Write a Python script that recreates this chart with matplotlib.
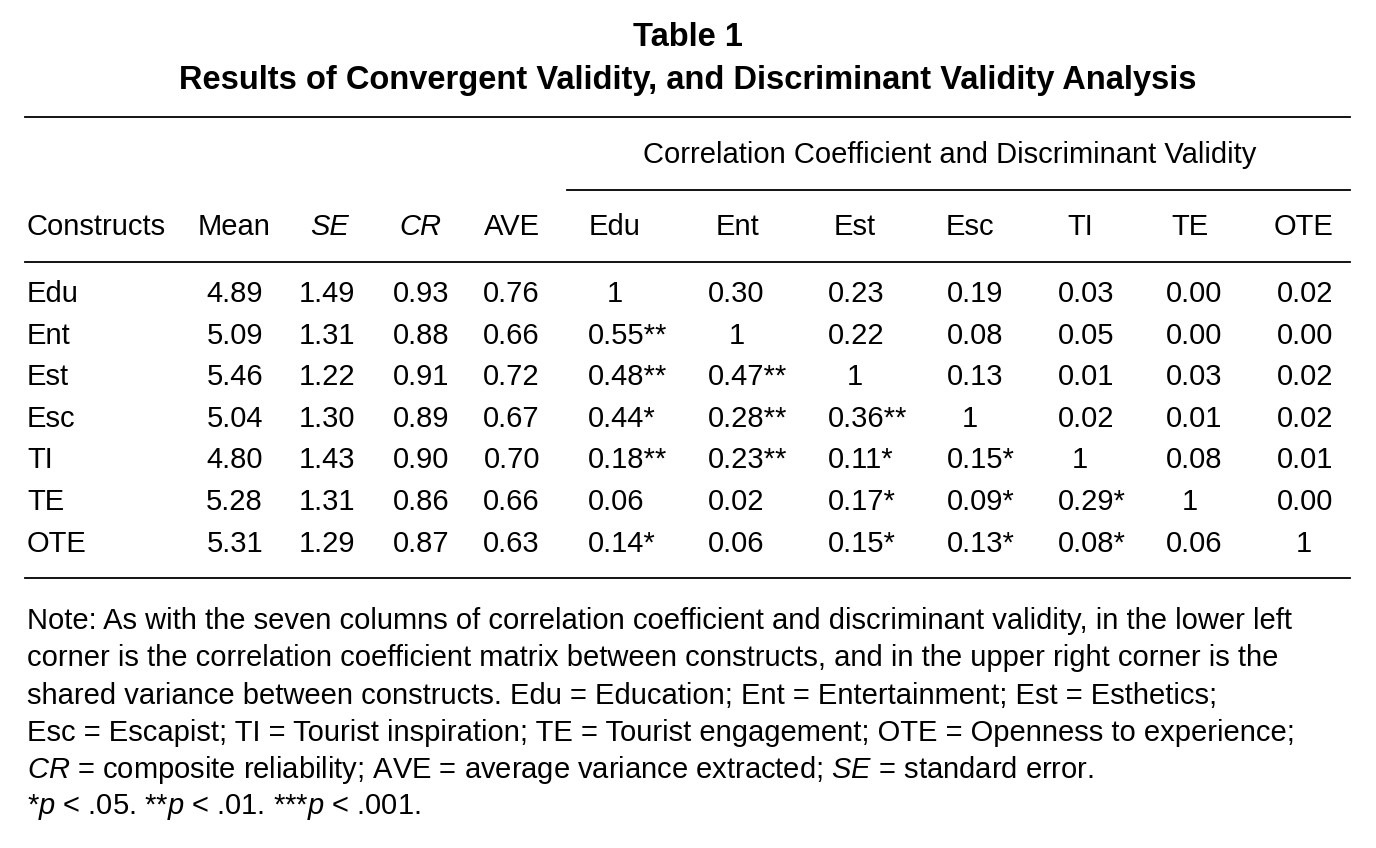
import matplotlib
matplotlib.use("Agg")
import matplotlib.pyplot as plt

plt.rcParams['font.family'] = ['Liberation Sans', 'DejaVu Sans']
plt.rcParams['mathtext.fontset'] = 'custom'
plt.rcParams['mathtext.rm'] = 'Liberation Sans'
plt.rcParams['mathtext.it'] = 'Liberation Sans:italic'

constructs = ["Edu", "Ent", "Est", "Esc", "TI", "TE", "OTE"]
means = ["4.89", "5.09", "5.46", "5.04", "4.80", "5.28", "5.31"]
ses = ["1.49", "1.31", "1.22", "1.30", "1.43", "1.31", "1.29"]
crs = ["0.93", "0.88", "0.91", "0.89", "0.90", "0.86", "0.87"]
aves = ["0.76", "0.66", "0.72", "0.67", "0.70", "0.66", "0.63"]
matrix = [
    ["1", "0.30", "0.23", "0.19", "0.03", "0.00", "0.02"],
    ["0.55**", "1", "0.22", "0.08", "0.05", "0.00", "0.00"],
    ["0.48**", "0.47**", "1", "0.13", "0.01", "0.03", "0.02"],
    ["0.44*", "0.28**", "0.36**", "1", "0.02", "0.01", "0.02"],
    ["0.18**", "0.23**", "0.11*", "0.15*", "1", "0.08", "0.01"],
    ["0.06", "0.02", "0.17*", "0.09*", "0.29*", "1", "0.00"],
    ["0.14*", "0.06", "0.15*", "0.13*", "0.08*", "0.06", "1"],
]
notes = [
    "Note: As with the seven columns of correlation coefficient and discriminant validity, in the lower left",
    "corner is the correlation coefficient matrix between constructs, and in the upper right corner is the",
    "shared variance between constructs. Edu = Education; Ent = Entertainment; Est = Esthetics;",
    "Esc = Escapist; TI = Tourist inspiration; TE = Tourist engagement; OTE = Openness to experience;",
    r"$\mathit{CR}$ = composite reliability; AVE = average variance extracted; $\mathit{SE}$ = standard error.",
    r"*$\mathit{p}$ < .05. **$\mathit{p}$ < .01. ***$\mathit{p}$ < .001.",
]

W, H = 1376, 848
fig = plt.figure(figsize=(W / 100, H / 100), dpi=100)
ax = fig.add_axes([0, 0, 1, 1])
ax.set_xlim(0, W)
ax.set_ylim(H, 0)
ax.axis("off")

fs = 21
nfs = 21
tfs = 23.5
ax.text(688, 38, "Table 1", ha="center", va="center", fontsize=tfs, fontweight="bold")
ax.text(688, 80, "Results of Convergent Validity, and Discriminant Validity Analysis",
        ha="center", va="center", fontsize=tfs, fontweight="bold")

for y, x0 in [(117, 25), (190, 567), (262, 25), (578, 25)]:
    ax.plot([x0, 1350], [y, y], color="black", lw=1.3)

ax.text(950, 155, "Correlation Coefficient and Discriminant Validity", ha="center", va="center", fontsize=fs)

hy = 227
ax.text(27, hy, "Constructs", ha="left", va="center", fontsize=fs)
ax.text(234, hy, "Mean", ha="center", va="center", fontsize=fs)
ax.text(330, hy, "SE", ha="center", va="center", fontsize=fs, style="italic")
ax.text(420, hy, "CR", ha="center", va="center", fontsize=fs, style="italic")
ax.text(512, hy, "AVE", ha="center", va="center", fontsize=fs)
centers = [615, 737, 855, 970, 1080, 1190, 1304]
starts = [588, 708, 828, 947, 1058, 1166, 1277]
for c, name in zip(centers, constructs):
    ax.text(c, hy, name, ha="center", va="center", fontsize=fs)

row_y = [294, 336, 377, 419, 460, 502, 544]
for i, y in enumerate(row_y):
    ax.text(27, y, constructs[i], ha="left", va="center", fontsize=fs)
    ax.text(263, y, means[i], ha="right", va="center", fontsize=fs)
    ax.text(355, y, ses[i], ha="right", va="center", fontsize=fs)
    ax.text(449, y, crs[i], ha="right", va="center", fontsize=fs)
    ax.text(540, y, aves[i], ha="right", va="center", fontsize=fs)
    for j, v in enumerate(matrix[i]):
        if v == "1":
            ax.text(centers[j], y, v, ha="center", va="center", fontsize=fs)
        else:
            ax.text(starts[j], y, v, ha="left", va="center", fontsize=fs)

for k, line in enumerate(notes):
    ax.text(27, 621 + k * 37.3, line, ha="left", va="center", fontsize=nfs)

fig.savefig("out.png", dpi=100)
